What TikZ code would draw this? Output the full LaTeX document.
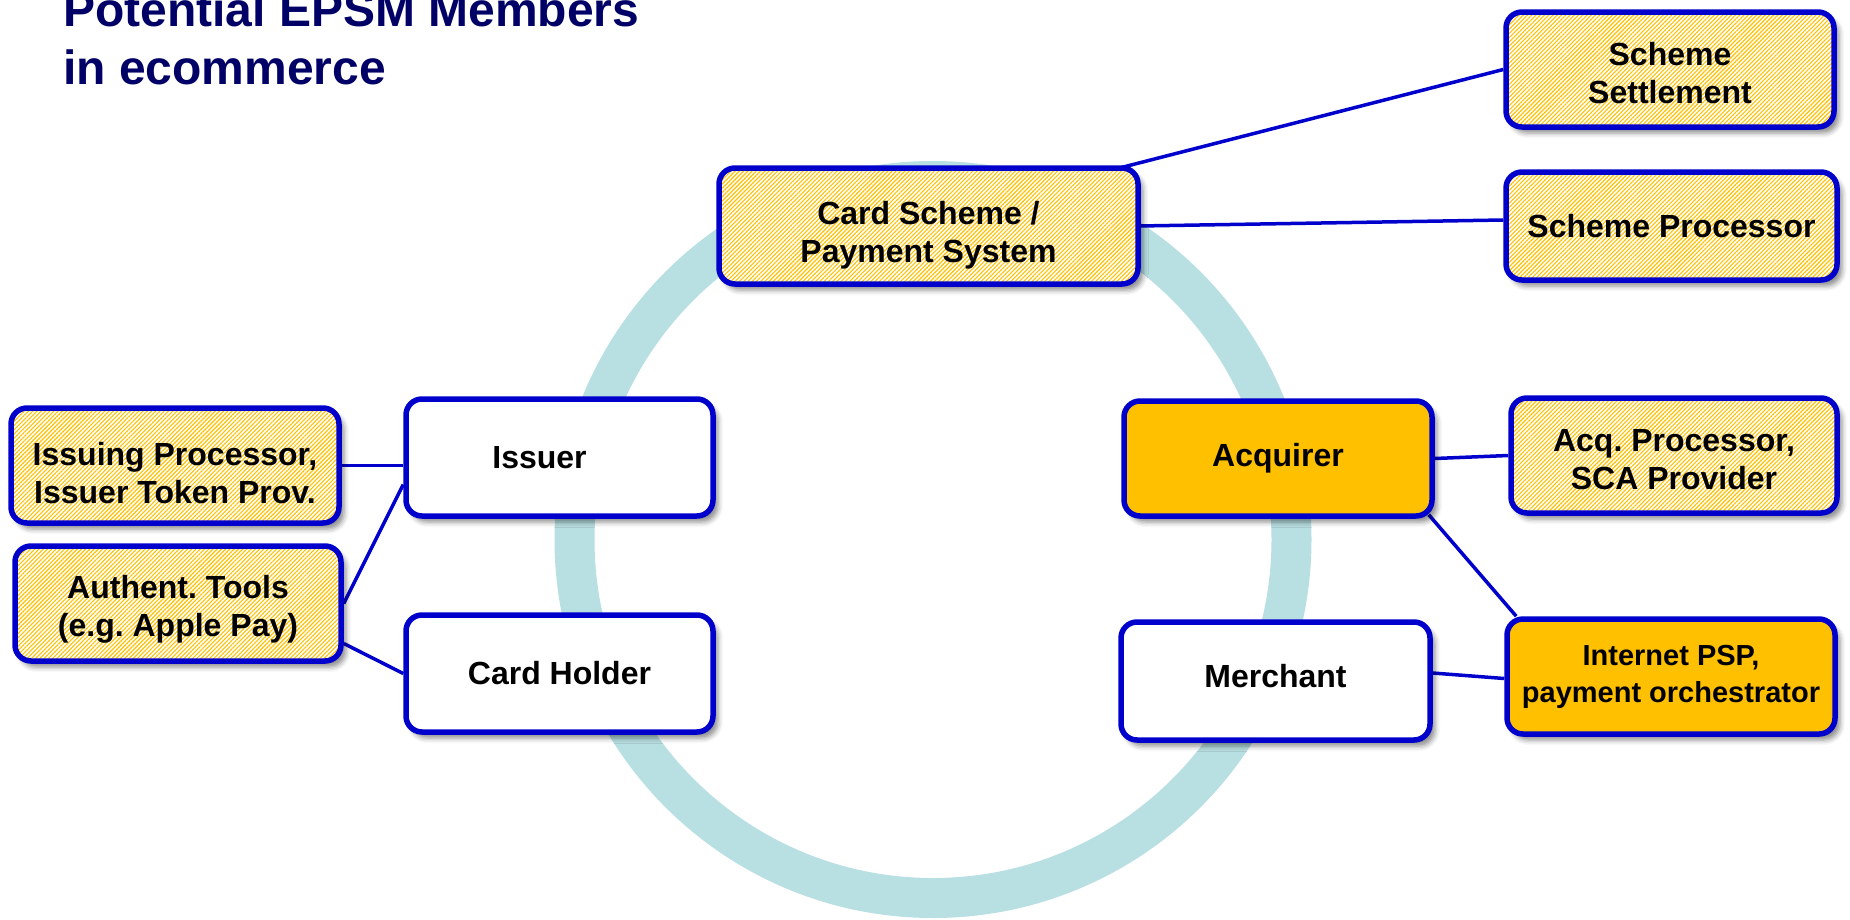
\documentclass[tikz,border=0pt]{standalone}
\usepackage{fontspec}
\setmainfont{Liberation Sans}
\usetikzlibrary{patterns.meta,shadows.blur}
\frenchspacing

\definecolor{boxblue}{RGB}{0,0,204}
\definecolor{gold}{RGB}{255,192,0}
\definecolor{ringteal}{RGB}{184,223,226}
\definecolor{titlenavy}{RGB}{0,0,102}

\newcommand{\drop}[1]{\rule{0pt}{#1}}

\pgfdeclarelayer{background}
\pgfsetlayers{background,main}

\tikzset{
  member/.style={draw=boxblue, line width=5.5pt, rounded corners=16pt, fill=white,
    align=center, inner sep=2pt, font=\bfseries\fontsize{32}{38}\selectfont,
    blur shadow={shadow xshift=5pt, shadow yshift=-6pt, shadow blur radius=5pt, shadow opacity=45}},
  hatched/.style={member, preaction={fill=white},
    pattern={Lines[angle=45,distance=3pt,line width=1.1pt]}, pattern color=gold},
  golden/.style={member, fill=gold},
  link/.style={draw=boxblue, line width=3.5pt}
}

\begin{document}
\begin{tikzpicture}[x=1pt,y=-1pt]
      \useasboundingbox (0,0) rectangle (1850,919);
      \node[anchor=south west, inner sep=0pt, align=left, text=titlenavy,
        font=\bfseries\fontsize{48}{58}\selectfont] (title) at (63,85) {Potential EPSM Members\\in ecommerce};
      \node[hatched, minimum width=419pt, minimum height=116pt] (scheme) at (928.5,226) {\drop{42pt}Card Scheme /\\Payment System};
      \node[hatched, minimum width=328pt, minimum height=115pt] (settle) at (1670,69.5) {\drop{31pt}Scheme\\Settlement};
      \node[hatched, minimum width=331pt, minimum height=108pt] (sproc) at (1671.5,226) {Scheme Processor};
      \node[hatched, minimum width=328pt, minimum height=115pt] (iproc) at (175,465.5) {\drop{38pt}Issuing Processor,\\Issuer Token Prov.};
      \node[hatched, minimum width=326pt, minimum height=115pt] (auth) at (178,603.5) {\drop{34pt}Authent. Tools\\(e.g. Apple Pay)};
      \node[member, minimum width=307pt, minimum height=117pt] (issuer) at (559.5,457.5) {Issuer\hspace*{40pt}};
      \node[member, minimum width=307pt, minimum height=117pt] (holder) at (559.5,673.5) {Card Holder};
      \node[golden, minimum width=308pt, minimum height=115pt] (acq) at (1278,458.5) {Acquirer};
      \node[hatched, minimum width=326pt, minimum height=115pt] (aproc) at (1674,455.5) {\drop{30pt}Acq. Processor,\\SCA Provider};
      \node[member, minimum width=309pt, minimum height=118pt] (merchant) at (1275.5,681) {Merchant\rule[-10pt]{0pt}{0pt}};
      \node[golden, minimum width=328pt, minimum height=115pt,
        font=\bfseries\fontsize{29}{37}\selectfont] (psp) at (1671,676.5) {Internet PSP,\\payment orchestrator};
      \begin{pgfonlayer}{background}
        \draw[ringteal, line width=40pt] (933,539.5) circle[radius=358.5];
        \draw[link] ([xshift=-17pt]scheme.north east) -- (settle.west);
        \draw[link] (scheme.east) -- ([yshift=6pt]sproc.west);
        \draw[link] (iproc.east) -- ([yshift=-8pt]issuer.west);
        \draw[link] (auth.east) -- ([yshift=-27pt]issuer.west);
        \draw[link] ([yshift=-40pt]auth.east) -- (holder.west);
        \draw[link] (acq.east) -- (aproc.west);
        \draw[link] ([xshift=-6pt,yshift=4pt]acq.south east) -- ([xshift=12pt]psp.north west);
        \draw[link] ([yshift=8pt]merchant.east) -- ([yshift=-2pt]psp.west);
      \end{pgfonlayer}
\end{tikzpicture}
\end{document}
